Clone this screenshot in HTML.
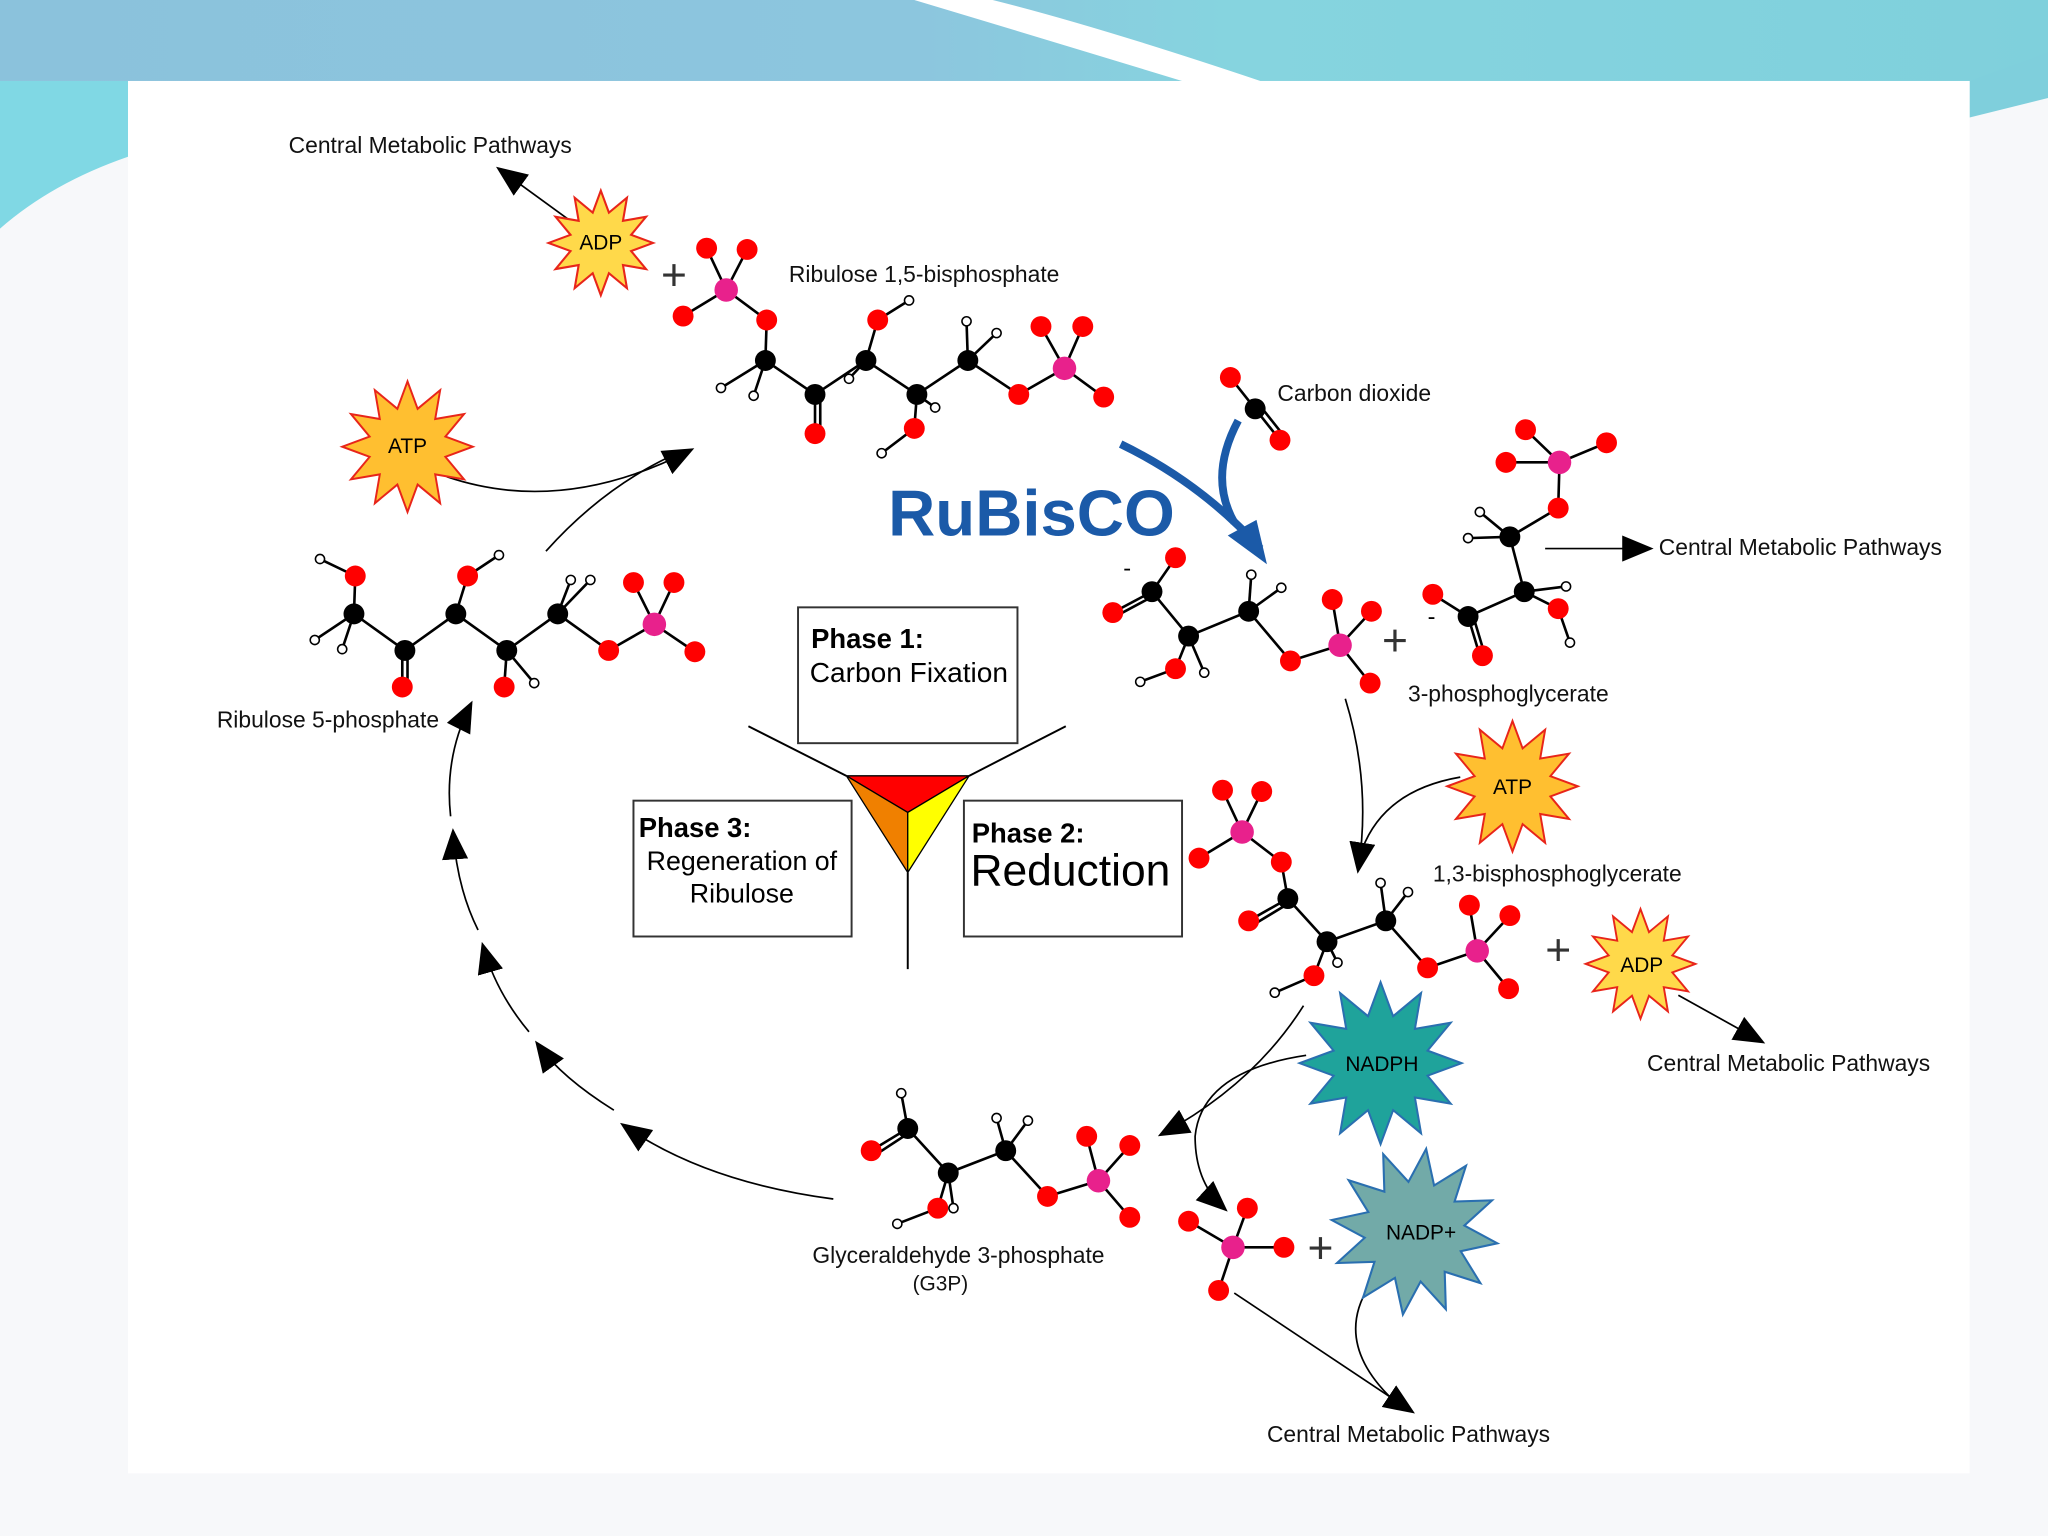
<!DOCTYPE html>
<html><head><meta charset="utf-8"><style>
html,body{margin:0;padding:0;background:#f5f7f9}
svg{display:block}
text{font-family:"Liberation Sans","DejaVu Sans",sans-serif}
</style></head><body>
<svg width="2048" height="1536" viewBox="0 0 1568 1176" xmlns="http://www.w3.org/2000/svg">
<defs>
<path id="st" d="M1,0 L0.58,0.155 L0.866,0.5 L0.424,0.424 L0.5,0.866 L0.155,0.58 L0,1 L-0.155,0.58 L-0.5,0.866 L-0.424,0.424 L-0.866,0.5 L-0.58,0.155 L-1,0 L-0.58,-0.155 L-0.866,-0.5 L-0.424,-0.424 L-0.5,-0.866 L-0.155,-0.58 L0,-1 L0.155,-0.58 L0.5,-0.866 L0.424,-0.424 L0.866,-0.5 L0.58,-0.155 Z"/>
<marker id="ab" markerWidth="24" markerHeight="20" refX="20" refY="10" orient="auto" markerUnits="userSpaceOnUse" viewBox="0 0 24 20"><path d="M0,0 L24,10 L0,20 Z" fill="#000"/></marker>
<linearGradient id="tb" x1="0" x2="1"><stop offset="0" stop-color="#8bc2dc"/><stop offset="0.45" stop-color="#8cc6de"/><stop offset="0.6" stop-color="#86d4df"/><stop offset="1" stop-color="#7fd0dc"/></linearGradient>
</defs>
<rect width="1568" height="1176" fill="#f7f8fa"/>
<rect width="1568" height="62" fill="url(#tb)"/>
<path d="M0,62 L98,62 L98,120 Q40,140 0,175 Z" fill="#80d8e4"/>
<path d="M1508,62 L1568,40 L1568,75 L1508,90 Z" fill="#7fcfdc"/>
<path d="M700,0 L760,0 Q840,20 965,62 L905,62 Q800,30 700,0 Z" fill="#ffffff"/>
<rect x="98" y="62" width="1410" height="1066" fill="#ffffff"/>

<line x1="573" y1="556" x2="648" y2="594" stroke="#000" stroke-width="1.5"/>
<line x1="816" y1="556" x2="742" y2="594" stroke="#000" stroke-width="1.5"/>
<line x1="695" y1="668" x2="695" y2="742" stroke="#000" stroke-width="1.5"/>
<polygon points="648,594 742,594 695,622" fill="#f00" stroke="#000"/>
<polygon points="648,594 695,622 695,668" fill="#f08000" stroke="#000"/>
<polygon points="742,594 695,622 695,668" fill="#ff0" stroke="#000"/>
<rect x="611" y="465" width="168" height="104" fill="#fff" stroke="#333" stroke-width="1.5"/>
<text x="621" y="496" font-size="21" font-weight="bold">Phase 1:</text>
<text x="620" y="522" font-size="21.5">Carbon Fixation</text>
<rect x="485" y="613" width="167" height="104" fill="#fff" stroke="#333" stroke-width="1.5"/>
<text x="489" y="641" font-size="21" font-weight="bold">Phase 3:</text>
<text x="568" y="666" font-size="20.5" text-anchor="middle">Regeneration of</text>
<text x="568" y="691" font-size="20.5" text-anchor="middle">Ribulose</text>
<rect x="738" y="613" width="167" height="104" fill="#fff" stroke="#333" stroke-width="1.5"/>
<text x="744" y="645" font-size="21" font-weight="bold">Phase 2:</text>
<text x="743" y="678" font-size="34">Reduction</text>

<text x="680" y="410" font-size="50" font-weight="bold" fill="#1b5aa8">RuBisCO</text>
<path d="M858,340 Q920,370 965,420" fill="none" stroke="#1b5aa8" stroke-width="6"/>
<path d="M948,322 Q925,365 945,400" fill="none" stroke="#1b5aa8" stroke-width="6"/>
<polygon points="970,432 940,410 962,398" fill="#1b5aa8"/>

<g fill="none" stroke="#000" stroke-width="1.3">
<path d="M438,170 L383,130" marker-end="url(#ab)"/>
<path d="M342,365 Q430,395 528,345" marker-end="url(#ab)"/>
<path d="M418,422 Q460,375 512,350"/>
<path d="M1183,420 L1262,420" marker-end="url(#ab)"/>
<path d="M1030,535 Q1050,600 1040,665" marker-end="url(#ab)"/>
<path d="M1118,595 Q1060,605 1043,650"/>
<path d="M1285,762 L1348,797" marker-end="url(#ab)"/>
<path d="M998,770 Q960,830 890,868" marker-end="url(#ab)"/>
<path d="M1000,808 Q920,820 915,870 Q915,905 937,925" marker-end="url(#ab)"/>
<path d="M945,990 L1080,1080" marker-end="url(#ab)"/>
<path d="M1048,985 Q1020,1030 1070,1075"/>
<path d="M638,918 Q540,905 478,862" marker-end="url(#ab)"/>
<path d="M470,850 Q430,825 412,800" marker-end="url(#ab)"/>
<path d="M405,790 Q380,760 370,725" marker-end="url(#ab)"/>
<path d="M366,712 Q350,680 347,638" marker-end="url(#ab)"/>
<path d="M345,625 Q340,580 360,540" marker-end="url(#ab)"/>
</g>

<g>
<use href="#st" transform="translate(460,186) scale(40)" fill="#ffd94a" stroke="#e8251a" style="stroke-width:0.04"/>
<use href="#st" transform="translate(312,342) scale(50)" fill="#ffbf30" stroke="#e8251a" style="stroke-width:0.03"/>
<use href="#st" transform="translate(1158,602) scale(50)" fill="#ffbf30" stroke="#e8251a" style="stroke-width:0.03"/>
<use href="#st" transform="translate(1256,738) scale(42)" fill="#ffd94a" stroke="#e8251a" style="stroke-width:0.035"/>
<use href="#st" transform="translate(1057,814) scale(62)" fill="#1fa39b" stroke="#2a6fb0" style="stroke-width:0.025"/>
<use href="#st" transform="translate(1083,943) scale(64) rotate(8)" fill="#72aaa8" stroke="#2a6fb0" style="stroke-width:0.025"/>
</g>
<g font-size="16" text-anchor="middle">
<text x="460" y="191">ADP</text>
<text x="312" y="347">ATP</text>
<text x="1158" y="608">ATP</text>
<text x="1257" y="744">ADP</text>
<text x="1058" y="820">NADPH</text>
<text x="1088" y="949">NADP+</text>
</g>

<g font-size="17.5" fill="#111">
<text x="221" y="117">Central Metabolic Pathways</text>
<text x="604" y="216">Ribulose 1,5-bisphosphate</text>
<text x="978" y="307">Carbon dioxide</text>
<text x="1270" y="425">Central Metabolic Pathways</text>
<text x="1078" y="537">3-phosphoglycerate</text>
<text x="1097" y="675">1,3-bisphosphoglycerate</text>
<text x="1261" y="820">Central Metabolic Pathways</text>
<text x="166" y="557">Ribulose 5-phosphate</text>
<text x="622" y="967">Glyceraldehyde 3-phosphate</text>
<text x="720" y="988" font-size="16" text-anchor="middle">(G3P)</text>
<text x="970" y="1104">Central Metabolic Pathways</text>
</g>
<g font-size="34" fill="#333" text-anchor="middle">
<text x="516" y="222">+</text>
<text x="1068" y="502">+</text>
<text x="1193" y="739">+</text>
<text x="1011" y="967">+</text>
</g>
<g font-size="18"><text x="860" y="441">-</text><text x="1093" y="478">-</text></g>

<g stroke="#000" stroke-width="2">
<polyline fill="none" points="523,242 556,222 587,245 586,276 624,302 663,276 702,302 741,276 780,302 815,282 845,304"/>
<line x1="556" y1="222" x2="541" y2="190"/><line x1="556" y1="222" x2="572" y2="191"/>
<line x1="624" y1="302" x2="624" y2="332"/><line x1="628" y1="302" x2="628" y2="332"/>
<polyline fill="none" points="663,276 672,245 696,230"/>
<polyline fill="none" points="702,302 700,328 675,347"/>
<line x1="586" y1="276" x2="552" y2="297"/><line x1="586" y1="276" x2="577" y2="303"/>
<line x1="741" y1="276" x2="740" y2="246"/><line x1="741" y1="276" x2="763" y2="255"/>
<line x1="663" y1="276" x2="650" y2="290"/><line x1="702" y1="302" x2="716" y2="312"/>
<line x1="815" y1="282" x2="797" y2="250"/><line x1="815" y1="282" x2="829" y2="250"/>
<polyline fill="none" points="245,428 272,441 271,470 310,498 349,470 388,498 427,470 466,498 501,478 532,499"/>
<line x1="271" y1="470" x2="241" y2="490"/><line x1="271" y1="470" x2="262" y2="497"/>
<line x1="308" y1="498" x2="308" y2="526"/><line x1="312" y1="498" x2="312" y2="526"/>
<polyline fill="none" points="349,470 358,441 382,425"/>
<line x1="388" y1="498" x2="386" y2="526"/><line x1="388" y1="498" x2="409" y2="523"/>
<line x1="427" y1="470" x2="437" y2="444"/><line x1="427" y1="470" x2="452" y2="444"/>
<line x1="501" y1="478" x2="485" y2="446"/><line x1="501" y1="478" x2="516" y2="446"/>
<polyline fill="none" points="900,427 882,453 910,487 956,468 988,506 1026,494 1049,523"/>
<line x1="882" y1="453" x2="852" y2="469"/><line x1="882" y1="457" x2="852" y2="473"/>
<polyline fill="none" points="910,487 900,512 873,522"/><line x1="910" y1="487" x2="922" y2="515"/>
<line x1="956" y1="468" x2="958" y2="440"/><line x1="956" y1="468" x2="981" y2="450"/>
<line x1="1026" y1="494" x2="1020" y2="459"/><line x1="1026" y1="494" x2="1050" y2="468"/>
<polyline fill="none" points="1153,354 1194,354 1193,389 1156,411 1167,453 1124,472 1097,455"/>
<line x1="1194" y1="354" x2="1168" y2="329"/><line x1="1194" y1="354" x2="1230" y2="339"/>
<line x1="1124" y1="472" x2="1133" y2="502"/><line x1="1128" y1="472" x2="1137" y2="502"/>
<line x1="1156" y1="411" x2="1133" y2="392"/><line x1="1156" y1="411" x2="1124" y2="412"/>
<line x1="1167" y1="453" x2="1199" y2="449"/><polyline fill="none" points="1167,453 1193,466 1202,492"/>
<polyline fill="none" points="918,657 951,637 981,660 986,688 1016,721 1061,705 1093,741 1131,728 1155,757"/>
<line x1="951" y1="637" x2="936" y2="605"/><line x1="951" y1="637" x2="966" y2="606"/>
<line x1="986" y1="688" x2="956" y2="705"/><line x1="986" y1="692" x2="958" y2="709"/>
<polyline fill="none" points="1016,721 1006,747 976,760"/><line x1="1016" y1="721" x2="1024" y2="737"/>
<line x1="1061" y1="705" x2="1057" y2="676"/><line x1="1061" y1="705" x2="1078" y2="683"/>
<line x1="1131" y1="728" x2="1125" y2="693"/><line x1="1131" y1="728" x2="1156" y2="701"/>
<polyline fill="none" points="690,837 695,864 726,898 770,881 802,916 841,904 865,932"/>
<line x1="695" y1="864" x2="667" y2="881"/><line x1="695" y1="868" x2="669" y2="885"/>
<polyline fill="none" points="726,898 718,925 687,937"/><line x1="726" y1="898" x2="730" y2="925"/>
<line x1="770" y1="881" x2="763" y2="856"/><line x1="770" y1="881" x2="787" y2="858"/>
<line x1="841" y1="904" x2="832" y2="870"/><line x1="841" y1="904" x2="865" y2="877"/>
<polyline fill="none" points="910,935 944,955 983,955"/><line x1="944" y1="955" x2="933" y2="988"/><line x1="944" y1="955" x2="955" y2="925"/>
<line x1="942" y1="289" x2="961" y2="313"/><line x1="961" y1="313" x2="980" y2="337"/><line x1="965" y1="311" x2="984" y2="335"/>
</g>

<g fill="#f00">
<circle cx="541" cy="190" r="8"/><circle cx="572" cy="191" r="8"/><circle cx="523" cy="242" r="8"/><circle cx="587" cy="245" r="8"/><circle cx="624" cy="332" r="8"/><circle cx="672" cy="245" r="8"/><circle cx="700" cy="328" r="8"/><circle cx="780" cy="302" r="8"/><circle cx="797" cy="250" r="8"/><circle cx="829" cy="250" r="8"/><circle cx="845" cy="304" r="8"/>
<circle cx="272" cy="441" r="8"/><circle cx="308" cy="526" r="8"/><circle cx="358" cy="441" r="8"/><circle cx="386" cy="526" r="8"/><circle cx="466" cy="498" r="8"/><circle cx="485" cy="446" r="8"/><circle cx="516" cy="446" r="8"/><circle cx="532" cy="499" r="8"/>
<circle cx="900" cy="427" r="8"/><circle cx="852" cy="469" r="8"/><circle cx="900" cy="512" r="8"/><circle cx="988" cy="506" r="8"/><circle cx="1020" cy="459" r="8"/><circle cx="1050" cy="468" r="8"/><circle cx="1049" cy="523" r="8"/>
<circle cx="1168" cy="329" r="8"/><circle cx="1230" cy="339" r="8"/><circle cx="1153" cy="354" r="8"/><circle cx="1193" cy="389" r="8"/><circle cx="1097" cy="455" r="8"/><circle cx="1135" cy="502" r="8"/><circle cx="1193" cy="466" r="8"/>
<circle cx="936" cy="605" r="8"/><circle cx="966" cy="606" r="8"/><circle cx="918" cy="657" r="8"/><circle cx="981" cy="660" r="8"/><circle cx="956" cy="705" r="8"/><circle cx="1006" cy="747" r="8"/><circle cx="1093" cy="741" r="8"/><circle cx="1125" cy="693" r="8"/><circle cx="1156" cy="701" r="8"/><circle cx="1155" cy="757" r="8"/>
<circle cx="667" cy="881" r="8"/><circle cx="718" cy="925" r="8"/><circle cx="802" cy="916" r="8"/><circle cx="832" cy="870" r="8"/><circle cx="865" cy="877" r="8"/><circle cx="865" cy="932" r="8"/>
<circle cx="910" cy="935" r="8"/><circle cx="955" cy="925" r="8"/><circle cx="983" cy="955" r="8"/><circle cx="933" cy="988" r="8"/>
<circle cx="942" cy="289" r="8"/><circle cx="980" cy="337" r="8"/>
</g>
<g fill="#e8218c">
<circle cx="556" cy="222" r="9"/><circle cx="815" cy="282" r="9"/><circle cx="501" cy="478" r="9"/><circle cx="1026" cy="494" r="9"/><circle cx="1194" cy="354" r="9"/><circle cx="951" cy="637" r="9"/><circle cx="1131" cy="728" r="9"/><circle cx="841" cy="904" r="9"/><circle cx="944" cy="955" r="9"/>
</g>
<g fill="#000">
<circle cx="586" cy="276" r="8"/><circle cx="624" cy="302" r="8"/><circle cx="663" cy="276" r="8"/><circle cx="702" cy="302" r="8"/><circle cx="741" cy="276" r="8"/>
<circle cx="271" cy="470" r="8"/><circle cx="310" cy="498" r="8"/><circle cx="349" cy="470" r="8"/><circle cx="388" cy="498" r="8"/><circle cx="427" cy="470" r="8"/>
<circle cx="882" cy="453" r="8"/><circle cx="910" cy="487" r="8"/><circle cx="956" cy="468" r="8"/>
<circle cx="1156" cy="411" r="8"/><circle cx="1167" cy="453" r="8"/><circle cx="1124" cy="472" r="8"/>
<circle cx="986" cy="688" r="8"/><circle cx="1016" cy="721" r="8"/><circle cx="1061" cy="705" r="8"/>
<circle cx="695" cy="864" r="8"/><circle cx="726" cy="898" r="8"/><circle cx="770" cy="881" r="8"/>
<circle cx="961" cy="313" r="8"/>
</g>
<g fill="#fff" stroke="#000" stroke-width="1.2">
<circle cx="552" cy="297" r="3.5"/><circle cx="577" cy="303" r="3.5"/><circle cx="696" cy="230" r="3.5"/><circle cx="675" cy="347" r="3.5"/><circle cx="740" cy="246" r="3.5"/><circle cx="763" cy="255" r="3.5"/><circle cx="716" cy="312" r="3.5"/><circle cx="650" cy="290" r="3.5"/>
<circle cx="245" cy="428" r="3.5"/><circle cx="241" cy="490" r="3.5"/><circle cx="262" cy="497" r="3.5"/><circle cx="382" cy="425" r="3.5"/><circle cx="409" cy="523" r="3.5"/><circle cx="437" cy="444" r="3.5"/><circle cx="452" cy="444" r="3.5"/>
<circle cx="873" cy="522" r="3.5"/><circle cx="922" cy="515" r="3.5"/><circle cx="958" cy="440" r="3.5"/><circle cx="981" cy="450" r="3.5"/>
<circle cx="1133" cy="392" r="3.5"/><circle cx="1124" cy="412" r="3.5"/><circle cx="1199" cy="449" r="3.5"/><circle cx="1202" cy="492" r="3.5"/>
<circle cx="976" cy="760" r="3.5"/><circle cx="1024" cy="737" r="3.5"/><circle cx="1057" cy="676" r="3.5"/><circle cx="1078" cy="683" r="3.5"/>
<circle cx="690" cy="837" r="3.5"/><circle cx="687" cy="937" r="3.5"/><circle cx="730" cy="925" r="3.5"/><circle cx="763" cy="856" r="3.5"/><circle cx="787" cy="858" r="3.5"/>
</g>
</svg>
</body></html>
